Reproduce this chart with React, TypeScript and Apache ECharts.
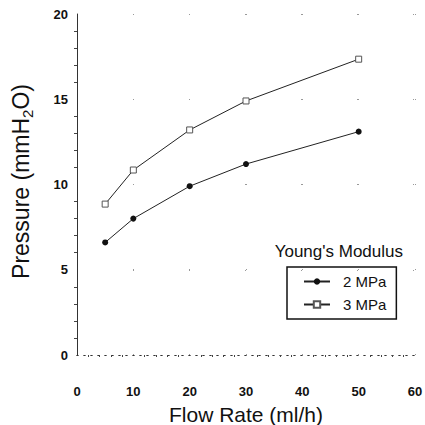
import React, { useEffect, useRef } from "react";
import * as echarts from "echarts";

const flowRate = [5, 10, 20, 30, 50];
const pressure2MPa = [6.6, 8.0, 9.9, 11.2, 13.1];
const pressure3MPa = [8.85, 10.85, 13.2, 14.9, 17.35];
const seriesNames = ["2 MPa", "3 MPa"];
const legendTitle = "Young's Modulus";

export default function App() {
  const ref = useRef<HTMLDivElement>(null);
  useEffect(() => {
    if (!ref.current) return;
    const chart = echarts.init(ref.current, null, { renderer: "svg" });
    const font = "Liberation Sans, Arial, sans-serif";
    const dotted = { color: "#333", width: 1, type: [1, 6] as any };
    chart.setOption({
      animation: false,
      backgroundColor: "#fff",
      grid: { left: 77, right: 10, top: 14, bottom: 70, outerBoundsMode: "none", containLabel: false },
      xAxis: [
        {
          type: "value",
          min: 0,
          max: 60,
          interval: 10,
          name: "Flow Rate (ml/h)",
          nameLocation: "middle",
          nameGap: 49,
          nameTextStyle: { fontFamily: font, fontSize: 21, color: "#111" },
          axisLine: { show: true, lineStyle: dotted },
          axisTick: { show: false },
          minorTick: { show: true, splitNumber: 5, length: 2, lineStyle: { color: "#444" } },
          axisLabel: { margin: 30, fontFamily: font, fontSize: 13, fontWeight: "bold", color: "#111" },
          splitLine: { show: true, lineStyle: { color: "#999", width: 1, type: [1, 84] as any } },
        },
        {
          type: "value",
          position: "top",
          min: 0,
          max: 60,
          interval: 10,
          axisLine: { show: true, lineStyle: dotted },
          axisTick: { show: false },
          axisLabel: { show: false },
          splitLine: { show: false },
        },
      ],
      yAxis: [
        {
          type: "value",
          min: 0,
          max: 20,
          interval: 5,
          name: "{a|Pressure (mmH}{s|2}{a|O)}",
          nameLocation: "middle",
          nameGap: 42,
          nameTextStyle: {
            padding: [0, 0, 0, 6],
            rich: {
              a: { fontFamily: font, fontSize: 23, color: "#111" },
              s: { fontFamily: font, fontSize: 15, color: "#111", padding: [13, 0, 0, 0] },
            },
          },
          axisLine: { show: true, lineStyle: { color: "#333", width: 1 } },
          axisTick: { show: false },
          minorTick: { show: true, splitNumber: 5, length: 3, lineStyle: { color: "#444" } },
          axisLabel: { margin: 9, fontFamily: font, fontSize: 13, fontWeight: "bold", color: "#111" },
          splitLine: { show: true, lineStyle: { color: "#999", width: 1, type: [1, 55] as any } },
        },
        {
          type: "value",
          position: "right",
          min: 0,
          max: 20,
          interval: 5,
          axisLine: { show: true, lineStyle: dotted },
          axisTick: { show: false },
          axisLabel: { show: false },
          splitLine: { show: false },
        },
      ],
      legend: {
        data: seriesNames,
        orient: "vertical",
        left: 287,
        top: 267,
        width: 107,
        height: 57,
        padding: [7, 10, 7, 16],
        itemGap: 8,
        itemWidth: 26,
        itemHeight: 8,
        borderColor: "#111",
        borderWidth: 1.5,
        textStyle: { fontFamily: font, fontSize: 15, color: "#111", padding: [0, 0, 0, 8] },
      },
      graphic: [
        {
          type: "text",
          right: 22,
          top: 243,
          style: { text: legendTitle, fontFamily: font, fontSize: 17, fill: "#111" },
        },
      ],
      series: [
        {
          name: seriesNames[0],
          type: "line",
          data: flowRate.map((x, i) => [x, pressure2MPa[i]]),
          symbol: "circle",
          symbolSize: 6,
          itemStyle: { color: "#111" },
          lineStyle: { color: "#222", width: 1 },
        },
        {
          name: seriesNames[1],
          type: "line",
          data: flowRate.map((x, i) => [x, pressure3MPa[i]]),
          symbol: "rect",
          symbolSize: 6,
          itemStyle: { color: "#fff", borderColor: "#555", borderWidth: 1 },
          lineStyle: { color: "#222", width: 1 },
        },
      ],
    });
    return () => chart.dispose();
  }, []);
  return <div ref={ref} style={{ width: 425, height: 425, position: "absolute", left: 0, top: 0 }} />;
}
